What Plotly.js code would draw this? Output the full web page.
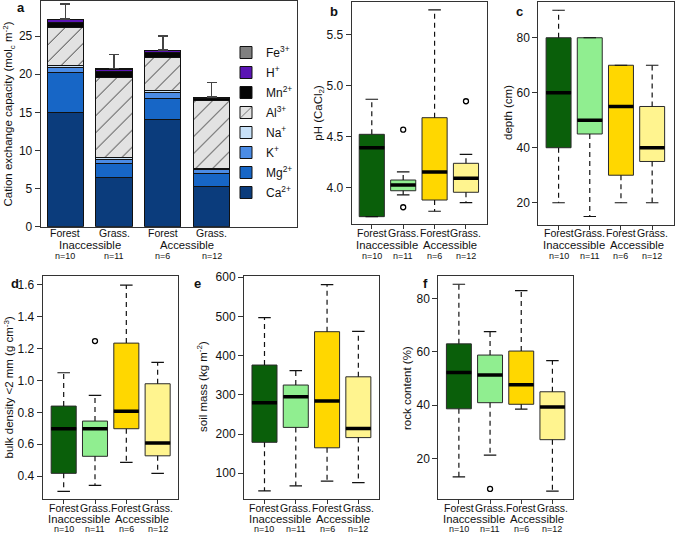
<!DOCTYPE html>
<html>
<head>
<meta charset="utf-8">
<script src="https://cdn.plot.ly/plotly-3.0.1.min.js"></script>
<style>
  html, body { margin: 0; padding: 0; background: #fff; }
  #plot { width: 675px; height: 533px; }
</style>
</head>
<body>
<div id="plot"></div>
<script>
// groups shared by every panel
var groups = ["Forest", "Grass.", "Forest", "Grass."];
var access = ["Inaccessible", "Accessible"];
var nObs = ["n=10", "n=11", "n=6", "n=12"];
var groupColors = ["#0a5f0a", "#90ee90", "#ffd700", "#fff48f"];

// panel a: cation exchange capacity (stacked means, mol_c m-2)
var ions = ["Ca<sup>2+</sup>", "Mg<sup>2+</sup>", "K<sup>+</sup>", "Na<sup>+</sup>",
            "Al<sup>3+</sup>", "Mn<sup>2+</sup>", "H<sup>+</sup>", "Fe<sup>3+</sup>"];
var ionColors = ["#0b3c7c", "#1766c6", "#4b8ce6", "#c8e1f8",
                 "#e2e2e2", "#050505", "#5b14b4", "#808080"];
var cecCa = [14.95, 6.51, 14.12, 5.33];
var cecMg = [5.24, 1.75, 2.71, 1.71];
var cecK  = [0.71, 0.61, 0.77, 0.43];
var cecNa = [0.30, 0.22, 0.20, 0.18];
var cecAl = [4.94, 10.49, 4.40, 8.95];
var cecMn = [0.66, 0.79, 0.60, 0.20];
var cecH  = [0.38, 0.30, 0.30, 0.16];
var cecFe = [0.05, 0.05, 0.05, 0.05];
var cecErr = [1.95, 1.88, 1.85, 1.89];

// panel b: pH (CaCl2)
var phLow = [3.716, 3.93, 3.769, 3.853];
var phQ1  = [3.716, 3.97, 3.879, 3.955];
var phMed = [4.392, 4.026, 4.154, 4.092];
var phQ3  = [4.523, 4.075, 4.686, 4.239];
var phHigh = [4.867, 4.154, 5.742, 4.327];
var phOutX = [1, 1, 3];
var phOutY = [4.569, 3.808, 4.847];

// panel c: depth (cm)
var depLow = [20, 15, 20, 20];
var depQ1  = [40, 45, 30, 35];
var depMed = [60, 50, 55, 40];
var depQ3  = [80, 80, 70, 55];
var depHigh = [90, 80, 70, 70];

// panel d: bulk density < 2 mm (g cm-3)
var bdLow = [0.304, 0.342, 0.486, 0.417];
var bdQ1  = [0.417, 0.524, 0.697, 0.527];
var bdMed = [0.697, 0.697, 0.806, 0.607];
var bdQ3  = [0.839, 0.745, 1.234, 0.979];
var bdHigh = [1.048, 0.906, 1.598, 1.113];
var bdOutX = [1];
var bdOutY = [1.247];

// panel e: soil mass (kg m-2)
var smLow = [55, 68, 80, 76];
var smQ1  = [179, 217, 165, 191];
var smMed = [280, 295, 284, 214];
var smQ3  = [376, 325, 461, 346];
var smHigh = [497, 362, 581, 462];

// panel f: rock content (%)
var rcLow = [13, 21.2, 38.5, 7.7];
var rcQ1  = [38.6, 40.9, 40.3, 27];
var rcMed = [52.2, 51.3, 47.6, 39.3];
var rcQ3  = [63, 58.8, 60.3, 45];
var rcHigh = [85.4, 67.6, 83, 56.7];
var rcOutX = [1];
var rcOutY = [8.5];

var W = 675, H = 533;
var FONT = '"Liberation Sans", Arial, Helvetica, sans-serif';

// panel frames in pixels [left, right, top, bottom]
var panels = [
  {letter: "a", frame: [40.7, 297.3, 1, 226.7], xr: [-0.505, 4.76], yr: [0, 29.6],
   yticks: [0, 5, 10, 15, 20, 25], fmt: "", rows: [233.3, 245, 255.7], letterPos: [21, 7],
   title: "Cation exchange capacity (mol<sub>c</sub> m<sup>-2</sup>)", titlePos: [8.5, 114]},
  {letter: "b", frame: [351.7, 486.7, 2, 224], xr: [-0.64, 3.66], yr: [3.644, 5.82],
   yticks: [4.0, 4.5, 5.0, 5.5], fmt: ".1f", rows: [233.3, 245, 255.7], letterPos: [333.5, 11],
   title: "pH (CaCl<sub>2</sub>)", titlePos: [318.7, 113],
   low: phLow, q1: phQ1, med: phMed, q3: phQ3, high: phHigh, outX: phOutX, outY: phOutY},
  {letter: "c", frame: [538.3, 674, 2, 225], xr: [-0.65, 3.70], yr: [11.9, 93],
   yticks: [20, 40, 60, 80], fmt: "", rows: [233.3, 245, 255.7], letterPos: [519.5, 11],
   title: "depth (cm)", titlePos: [508, 113],
   low: depLow, q1: depQ1, med: depMed, q3: depQ3, high: depHigh},
  {letter: "d", frame: [42.7, 178, 276, 498.7], xr: [-0.67, 3.65], yr: [0.258, 1.655],
   yticks: [0.4, 0.6, 0.8, 1.0, 1.2, 1.4, 1.6], fmt: ".1f", rows: [508.3, 519, 528.6], letterPos: [15, 283],
   title: "bulk density &lt;2 mm (g cm<sup>-3</sup>)", titlePos: [8.5, 387],
   low: bdLow, q1: bdQ1, med: bdMed, q3: bdQ3, high: bdHigh, outX: bdOutX, outY: bdOutY},
  {letter: "e", frame: [244, 379, 276, 499.3], xr: [-0.655, 3.66], yr: [33.7, 603],
   yticks: [100, 200, 300, 400, 500, 600], fmt: "", rows: [508.3, 519, 528.6], letterPos: [197.5, 283],
   title: "soil mass (kg m<sup>-2</sup>)", titlePos: [202, 387],
   low: smLow, q1: smQ1, med: smMed, q3: smQ3, high: smHigh},
  {letter: "f", frame: [438.3, 573, 276, 499.3], xr: [-0.66, 3.66], yr: [4.6, 88.5],
   yticks: [20, 40, 60, 80], fmt: "", rows: [508.3, 519, 528.6], letterPos: [425.5, 283],
   title: "rock content (%)", titlePos: [407, 388],
   low: rcLow, q1: rcQ1, med: rcMed, q3: rcQ3, high: rcHigh, outX: rcOutX, outY: rcOutY}
];

var data = [];
var layout = {
  width: W, height: H,
  margin: {l: 0, r: 0, t: 0, b: 0},
  paper_bgcolor: "#fff", plot_bgcolor: "rgba(0,0,0,0)",
  font: {family: FONT, size: 12, color: "#111"},
  barmode: "stack", boxmode: "overlay",
  hovermode: false,
  showlegend: true,
  legend: {x: 226 / W, y: 1 - 38 / H, xanchor: "left", yanchor: "top",
           traceorder: "grouped", tracegroupgap: 1,
           bgcolor: "rgba(0,0,0,0)", font: {size: 12}},
  annotations: []
};

function ann(o) {
  layout.annotations.push(Object.assign({showarrow: false, borderpad: 0,
    font: {family: FONT, size: 12, color: "#111"}}, o));
}

panels.forEach(function (p, k) {
  var s = k === 0 ? "" : String(k + 1);
  var xa = "x" + s, ya = "y" + s;
  layout["xaxis" + s] = {
    domain: [p.frame[0] / W, p.frame[1] / W], range: p.xr, anchor: ya,
    showline: true, mirror: true, linecolor: "#333", linewidth: 1,
    showgrid: false, zeroline: false, tickmode: "array", tickvals: [0, 1, 2, 3],
    ticks: k === 0 ? "" : "outside", ticklen: 4, tickcolor: "#333",
    showticklabels: false, fixedrange: true
  };
  layout["yaxis" + s] = {
    domain: [1 - p.frame[3] / H, 1 - p.frame[2] / H], range: p.yr, anchor: xa,
    showline: true, mirror: true, linecolor: "#333", linewidth: 1,
    showgrid: false, zeroline: false, tickmode: "array", tickvals: p.yticks,
    tickformat: p.fmt, ticks: "outside", ticklen: 5, tickcolor: "#333",
    tickfont: {size: 12}, fixedrange: true
  };

  // category labels under each axis
  groups.forEach(function (g, i) {
    ann({xref: xa, x: i, yref: "paper", y: 1 - p.rows[0] / H, yanchor: "middle", text: g,
         font: {family: FONT, size: 10.5, color: "#111"}});
    ann({xref: xa, x: i, yref: "paper", y: 1 - p.rows[2] / H, yanchor: "middle", text: nObs[i],
         font: {family: FONT, size: 9, color: "#111"}});
  });
  access.forEach(function (a, j) {
    ann({xref: xa, x: 2 * j + 0.5, yref: "paper", y: 1 - p.rows[1] / H, yanchor: "middle", text: a,
         font: {family: FONT, size: 11.3, color: "#111"}});
  });
  ann({xref: "paper", yref: "paper", x: p.titlePos[0] / W, y: 1 - p.titlePos[1] / H,
       xanchor: "center", yanchor: "middle", textangle: -90, text: p.title,
       font: {family: FONT, size: 11.5, color: "#111"}});
  ann({xref: "paper", yref: "paper", x: p.letterPos[0] / W, y: 1 - p.letterPos[1] / H,
       xanchor: "center", yanchor: "middle", text: "<b>" + p.letter + "</b>",
       font: {family: FONT, size: 13, color: "#111"}});

  if (k === 0) return;

  // boxes (whiskers drawn separately as dashed lines)
  for (var i = 0; i < 4; i++) {
    data.push({
      type: "box", xaxis: xa, yaxis: ya, x: [i],
      q1: [p.q1[i]], median: [p.med[i]], q3: [p.q3[i]],
      lowerfence: [p.q1[i]], upperfence: [p.q3[i]],
      width: 0.8, boxpoints: false, whiskerwidth: 0,
      fillcolor: groupColors[i], line: {color: "#2a2a2a", width: 1},
      showlegend: false
    });
  }
  var wx = [], wy = [], cx = [], cy = [], mx = [], my = [];
  for (var i = 0; i < 4; i++) {
    wx.push(i, i, null, i, i, null);
    wy.push(p.q3[i], p.high[i], null, p.q1[i], p.low[i], null);
    cx.push(i - 0.2, i + 0.2, null, i - 0.2, i + 0.2, null);
    cy.push(p.high[i], p.high[i], null, p.low[i], p.low[i], null);
    mx.push(i - 0.4, i + 0.4, null);
    my.push(p.med[i], p.med[i], null);
  }
  data.push({type: "scatter", mode: "lines", xaxis: xa, yaxis: ya, x: wx, y: wy,
             line: {color: "#111", width: 1.2, dash: "5px,4px"}, showlegend: false});
  data.push({type: "scatter", mode: "lines", xaxis: xa, yaxis: ya, x: cx, y: cy,
             line: {color: "#111", width: 1.2}, showlegend: false});
  data.push({type: "scatter", mode: "lines", xaxis: xa, yaxis: ya, x: mx, y: my,
             line: {color: "#000", width: 3.5}, showlegend: false});
  if (p.outX) {
    data.push({type: "scatter", mode: "markers", xaxis: xa, yaxis: ya, x: p.outX, y: p.outY,
               marker: {symbol: "circle-open", size: 5, color: "#000", line: {width: 1.3}},
               showlegend: false});
  }
});

// stacked CEC bars in panel a (legend lists the top layer first)
var cecLayers = [cecCa, cecMg, cecK, cecNa, cecAl, cecMn, cecH, cecFe];
cecLayers.forEach(function (vals, j) {
  var tr = {
    type: "bar", x: [0, 1, 2, 3], y: vals, width: 0.745, name: ions[j],
    legendgroup: "g" + j, legendrank: 100 - j,
    marker: {color: ionColors[j], line: {color: "#111", width: 1}}
  };
  if (j === 4) {
    tr.marker.pattern = {shape: "/", fgcolor: "#333", bgcolor: ionColors[j], size: 12, solidity: 0.08};
  }
  if (j === cecLayers.length - 1) {
    tr.error_y = {type: "data", symmetric: false, array: cecErr, arrayminus: [0, 0, 0, 0],
                  color: "#444", thickness: 1.5, width: 5};
  }
  data.push(tr);
});

Plotly.newPlot("plot", data, layout, {displayModeBar: false, staticPlot: true});
</script>
</body>
</html>
